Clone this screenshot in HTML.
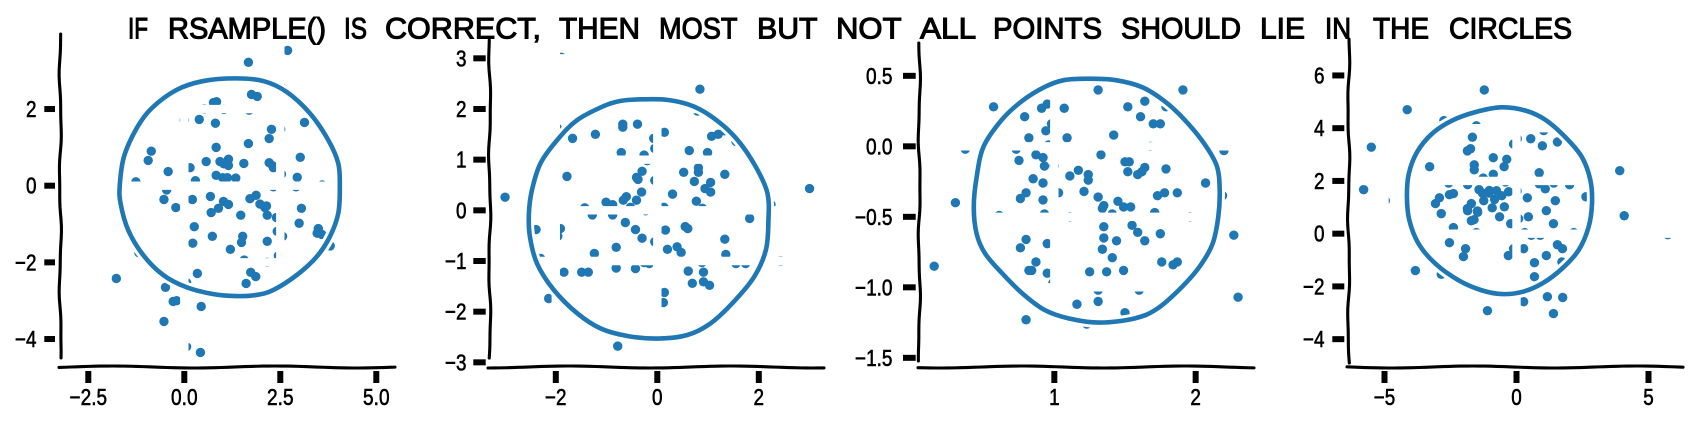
<!DOCTYPE html>
<html lang="en">
<head>
<meta charset="utf-8">
<title>rsample check</title>
<style>
html,body{margin:0;padding:0;background:#fff;}
svg{display:block;}
text{font-family:"Liberation Sans","DejaVu Sans",sans-serif;fill:#000;}
</style>
</head>
<body>
<svg id="chart" width="1696" height="421" viewBox="0 0 1696 421" xmlns="http://www.w3.org/2000/svg">
<rect width="1696" height="421" fill="#fff"/>
<text id="fig-title" y="38.5" font-size="30" stroke="#000" stroke-width="1.1"><tspan x="128" textLength="20" lengthAdjust="spacingAndGlyphs">IF</tspan> <tspan x="168" textLength="158" lengthAdjust="spacingAndGlyphs">RSAMPLE()</tspan> <tspan x="344" textLength="23" lengthAdjust="spacingAndGlyphs">IS</tspan> <tspan x="385" textLength="156" lengthAdjust="spacingAndGlyphs">CORRECT,</tspan> <tspan x="559" textLength="81" lengthAdjust="spacingAndGlyphs">THEN</tspan> <tspan x="659" textLength="78" lengthAdjust="spacingAndGlyphs">MOST</tspan> <tspan x="757" textLength="60" lengthAdjust="spacingAndGlyphs">BUT</tspan> <tspan x="836" textLength="65" lengthAdjust="spacingAndGlyphs">NOT</tspan> <tspan x="920" textLength="55" lengthAdjust="spacingAndGlyphs">ALL</tspan> <tspan x="993" textLength="109" lengthAdjust="spacingAndGlyphs">POINTS</tspan> <tspan x="1121" textLength="120" lengthAdjust="spacingAndGlyphs">SHOULD</tspan> <tspan x="1260" textLength="45" lengthAdjust="spacingAndGlyphs">LIE</tspan> <tspan x="1325" textLength="26" lengthAdjust="spacingAndGlyphs">IN</tspan> <tspan x="1373" textLength="56" lengthAdjust="spacingAndGlyphs">THE</tspan> <tspan x="1449" textLength="123" lengthAdjust="spacingAndGlyphs">CIRCLES</tspan></text>
</svg>
<script>
// ---- Panel 1 data ----
const p1X = [2.69,1.67,1.75,1.90,.84,.76,.52,1.03,1.69,2.53,0,.39,.81,3.13,2.27,2.51,2.21,1.67,.83,-.86,-.94,3.02,1.15,.93,1.03,1.15,.57,1.55,2.21,2.30,2.32,.15,-.42,.83,1.00,1.12,1.34,2.53,2.94,-1.26,.29,3.59,-.46,2.91,2.32,1.87,.68,1.71,-.53,.21,1.02,1.15,1.97,2.14,2.10,-.22,.89,3.05,.70,1.47,2.16,2.40,2.99,.26,3.49,3.46,3.58,2.42,2.56,.73,1.52,1.49,2.16,.22,3.80,1.20,-1.18,1.56,2.16,2.45,1.73,1.86,.34,-1.77,.06,1.61,-.49,-.29,-.20,.44,-.53,.06,.42];
const p1Y = [3.53,3.22,2.38,2.33,2.19,2.17,2.00,1.99,1.97,2.57,1.71,1.73,1.63,1.65,1.47,1.47,1.23,1.10,1.00,.90,.66,.74,.69,.63,.57,.53,.63,.58,.60,.52,.47,.47,.37,.27,.21,.21,.20,.30,.22,.10,.13,.02,-.11,-.03,-.03,-.25,-.28,-.34,-.36,-.36,-.41,-.49,-.48,-.53,-.57,-.57,-.59,-.59,-.70,-.77,-.77,-.83,-.98,-1.07,-1.12,-1.24,-1.27,-1.19,-1.32,-1.32,-1.32,-1.48,-1.45,-1.50,-1.57,-1.66,-1.75,-1.94,-2.00,-1.83,-2.26,-2.37,-2.29,-2.42,-2.53,-2.55,-2.65,-3.02,-3.00,-3.15,-3.54,-4.20,-4.35];
const p1CircleX = [1.34,2.06,2.66,3.27,3.75,4.01,4.05,4.01,3.79,3.45,2.93,2.32,1.88,1.34,.76,.06,-.55,-1.07,-1.46,-1.66,-1.68,-1.57,-1.24,-.85,-.20,.49];
const p1CircleY = [2.80,2.73,2.45,1.89,1.19,.58,-.03,-.72,-1.33,-1.85,-2.33,-2.72,-2.85,-2.88,-2.83,-2.65,-2.33,-1.81,-1.16,-.46,.02,.76,1.50,2.02,2.50,2.73];
const p1XTicks = [-2.5,0,2.5,5];
const p1XLabels = ["\u22122.5","0.0","2.5","5.0"];
const p1YTicks = [2,0,-2,-4];
const p1YLabels = ["2","0","\u22122","\u22124"];

// ---- Panel 2 data ----
const p2X = [.84,3.00,-3.00,-.68,-.68,-.39,.14,-1.97,-1.67,-1.22,-.07,1.07,1.20,1.32,1.55,-.05,-.71,-.26,.63,.99,-.20,.81,.81,-.30,.52,-1.78,1.33,-.41,-.38,-.05,.73,1.05,.94,1.05,-.31,.30,-.61,-.67,-.41,-1.01,.77,-.88,.89,-.53,-1.43,.13,-.23,2.24,-1.28,-.88,-.63,1.82,-2.39,-1.91,-1.96,-.43,.16,.55,.60,-.30,-.05,1.33,-.81,.39,.20,.47,1.35,-1.24,-2.30,2.43,-.81,-.43,-.26,-.16,1.55,1.74,.88,.61,.91,-1.84,-1.49,-1.36,.91,.69,1.03,.14,.12,-2.14,-.78,-1.89,.79];
const p2Y = [2.39,.43,.26,1.70,1.64,1.70,1.54,1.62,1.42,1.50,1.42,1.46,1.50,1.57,1.36,1.22,1.14,1.09,1.18,1.14,.98,.84,.75,.77,.75,.67,.71,.65,.61,.59,.57,.55,.43,.36,.36,.32,.27,.20,.20,.16,.18,.11,.04,.06,.05,.06,-.01,.11,-.09,-.09,-.24,-.16,-.38,-.36,-.51,-.38,-.39,-.32,-.36,-.55,-.62,-.57,-.73,-.72,-.77,-.83,-.87,-.85,-.95,-1.00,-1.14,-1.15,-1.03,-1.05,-1.05,-1.05,-1.03,-1.20,-1.22,-1.22,-1.22,-1.22,-1.41,-1.44,-1.48,-1.62,-1.82,-1.74,-2.68,3.02,1.96];
const p2CircleX = [-.33,.20,.72,1.18,1.58,1.94,2.17,2.19,2.14,1.91,1.51,1.05,.59,0,-.59,-1.12,-1.58,-2.04,-2.37,-2.51,-2.53,-2.47,-2.30,-1.97,-1.58,-1.05,-.72];
const p2CircleY = [2.19,2.18,2.05,1.77,1.39,.86,.34,-.19,-.78,-1.31,-1.80,-2.23,-2.46,-2.53,-2.48,-2.33,-2.03,-1.57,-1.05,-.52,-.06,.40,.93,1.39,1.78,2.06,2.16];
const p2XTicks = [-2,0,2];
const p2XLabels = ["\u22122","0","2"];
const p2YTicks = [3,2,1,0,-1,-2,-3];
const p2YLabels = ["3","2","1","0","\u22121","\u22122","\u22123"];

// ---- Panel 3 data ----
const p3X = [1.31,1.91,1.64,.57,.91,.95,1.07,1.52,1.79,.79,1.61,1.70,1.75,.98,.94,.82,1.09,1.42,.96,.37,.73,.87,.92,1.33,2.20,1.68,.75,.93,1.00,1.50,1.53,1.64,1.79,1.17,1.52,1.62,1.59,1.24,1.11,.85,.92,1.24,2.07,1.21,.80,1.03,1.78,1.87,1.73,.76,1.31,.92,2.19,1.45,.30,1.35,1.34,1.49,1.54,.93,1.41,1.71,.61,1.11,1.96,1.35,1.55,1.59,1.75,2.27,1.35,1.64,1.44,.80,.95,.76,1.34,1.41,.87,1.76,1.84,1.87,.15,.82,.84,1.49,1.37,1.25,.95,.99,1.31,1.60,1.16,1.31,1.50,.80,1.23,2.30];
const p3Y = [.40,.40,.32,.28,.27,.30,.27,.28,.28,.21,.21,.16,.16,.16,.11,.06,.06,.08,.01,-.02,-.02,-.06,-.08,-.06,-.03,0,-.10,-.14,-.14,-.11,-.11,-.15,-.16,-.17,-.18,-.18,-.20,-.20,-.21,-.23,-.26,-.24,-.26,-.32,-.33,-.33,-.33,-.33,-.35,-.37,-.36,-.38,-.35,-.39,-.40,-.42,-.44,-.43,-.43,-.48,-.48,-.47,-.49,-.50,-.50,-.57,-.56,-.61,-.62,-.63,-.65,-.67,-.67,-.66,-.69,-.72,-.73,-.79,-.82,-.82,-.84,-.82,-.85,-.88,-.88,-.88,-.89,-.89,-.90,-.97,-1.02,-1.02,-1.12,-1.10,-1.18,-1.23,-1.26,-1.07];
const p3CircleX = [1.24,1.43,1.62,1.78,1.92,2.06,2.15,2.17,2.16,2.12,2.03,1.90,1.73,1.57,1.32,1.10,.93,.77,.63,.51,.45,.43,.45,.50,.63,.77,.93,1.07];
const p3CircleY = [.48,.47,.42,.32,.19,.02,-.14,-.31,-.50,-.69,-.85,-1.00,-1.15,-1.22,-1.25,-1.22,-1.16,-1.04,-.90,-.76,-.62,-.43,-.22,0,.19,.32,.42,.47];
const p3XTicks = [1,2];
const p3XLabels = ["1","2"];
const p3YTicks = [.5,0,-.5,-1,-1.5];
const p3YLabels = ["0.5","0.0","\u22120.5","\u22121.0","\u22121.5"];

// ---- Panel 4 data ----
const p4X = [-1.22,-4.14,-2.75,-1.52,-1.67,.54,1.03,1.55,-.11,.03,.98,-5.50,-1.74,-1.86,-.88,-.37,-3.29,-1.60,-1.60,-.47,3.91,.86,-.88,-1.26,-2.57,-.42,-1.85,.86,1.09,1.41,2.01,-5.79,-1.42,-1.03,-.76,-.30,.02,-1.29,-.56,-2.54,-2.39,-1.04,.41,2.63,-2.92,1.47,-1.24,-.83,-4.97,-3.07,-1.71,-.92,-.46,-1.86,-1.85,-1.48,1.13,-2.85,-1.47,4.08,-.64,.45,.08,-1.61,-1.71,1.40,-.22,-2.39,-1.52,2.17,.31,.56,.90,5.73,-2.54,1.55,-1.93,1.74,.27,-.11,-2.01,-.31,1.13,.68,1.72,-3.83,.68,-2.85,1.17,1.75,.27,-1.10,1.40];
const p4Y = [5.45,4.70,4.29,4.09,3.66,3.60,3.91,3.48,3.40,3.60,3.33,3.28,3.22,3.14,2.88,2.82,2.54,2.61,2.42,2.54,2.39,2.31,2.25,2.11,1.92,1.96,1.86,1.89,1.70,1.92,1.86,1.67,1.67,1.64,1.63,1.59,1.62,1.54,1.44,1.48,1.52,1.54,1.36,1.40,1.36,1.25,1.25,1.30,1.25,1.14,1.14,.98,1.02,.95,.87,.86,.87,.76,.81,.68,.64,.64,.57,.53,.49,.38,.38,.23,.04,.04,.04,-.06,-.06,-.04,-.34,-.42,-.57,-.57,-.57,-.57,-.87,-.83,-.83,-1.10,-1.07,-1.40,-1.63,-1.54,-2.39,-2.42,-2.58,-2.92,-3.03];
const p4CircleX = [-.57,.33,1.09,1.85,2.48,2.80,2.86,2.73,2.35,1.72,.97,.21,-.55,-1.31,-2.19,-3.07,-3.71,-4.06,-4.15,-4.08,-3.77,-3.20,-2.44,-1.56];
const p4CircleY = [4.79,4.67,4.32,3.66,2.90,2.02,1.14,.25,-.63,-1.33,-1.89,-2.21,-2.29,-2.15,-1.77,-1.14,-.38,.51,1.39,2.27,3.09,3.79,4.29,4.61];
const p4XTicks = [-5,0,5];
const p4XLabels = ["\u22125","0","5"];
const p4YTicks = [6,4,2,0,-2,-4];
const p4YLabels = ["6","4","2","0","\u22122","\u22124"];

const NS = 'http://www.w3.org/2000/svg';
const svg = document.getElementById('chart');
const titleEl = document.getElementById('fig-title');
const BLUE = '#1f77b4';

const panels = [
  {xs:p1X, ys:p1Y, cx:p1CircleX, cy:p1CircleY, xt:p1XTicks, xl:p1XLabels, yt:p1YTicks, yl:p1YLabels,
   x0:184.3, kx:38.4, y0:185.7, ky:38.33, spine:60.3, top:34, right:397, left:59, tickL:44.3, tickR:55, labelR:36.5, ph:0.4},
  {xs:p2X, ys:p2Y, cx:p2CircleX, cy:p2CircleY, xt:p2XTicks, xl:p2XLabels, yt:p2YTicks, yl:p2YLabels,
   x0:657.3, kx:50.75, y0:210.33, ky:50.67, spine:489.7, top:40, right:826, left:488, tickL:473.3, tickR:485.7, labelR:466.5, ph:1.7},
  {xs:p3X, ys:p3Y, cx:p3CircleX, cy:p3CircleY, xt:p3XTicks, xl:p3XLabels, yt:p3YTicks, yl:p3YLabels,
   x0:913, kx:141.33, y0:146.33, ky:141, spine:919.3, top:43, right:1255, left:918, tickL:903, tickR:915.7, labelR:892.5, ph:3.1},
  {xs:p4X, ys:p4Y, cx:p4CircleX, cy:p4CircleY, xt:p4XTicks, xl:p4XLabels, yt:p4YTicks, yl:p4YLabels,
   x0:1516.5, kx:26.4, y0:233.67, ky:26.37, spine:1348.7, top:39, right:1684, left:1347, tickL:1332.3, tickR:1344.3, labelR:1324.5, ph:4.6}
];

function mk(tag, parent, attrs){
  const el = document.createElementNS(NS, tag);
  for (const k in attrs) el.setAttribute(k, attrs[k]);
  parent.appendChild(el);
  return el;
}
function labelWidth(s){
  let w = 0;
  for (const c of s) w += c === '.' ? 5.5 : (c === '\u2212' ? 11 : 10.5);
  return w;
}
function smoothClosed(pts){
  const n = pts.length;
  let d = 'M' + pts[0][0].toFixed(2) + ' ' + pts[0][1].toFixed(2);
  for (let i = 0; i < n; i++){
    const p0 = pts[(i - 1 + n) % n], p1 = pts[i], p2 = pts[(i + 1) % n], p3 = pts[(i + 2) % n];
    const c1x = p1[0] + (p2[0] - p0[0]) / 6, c1y = p1[1] + (p2[1] - p0[1]) / 6;
    const c2x = p2[0] - (p3[0] - p1[0]) / 6, c2y = p2[1] - (p3[1] - p1[1]) / 6;
    d += 'C' + c1x.toFixed(2) + ' ' + c1y.toFixed(2) + ' ' + c2x.toFixed(2) + ' ' + c2y.toFixed(2) + ' ' + p2[0].toFixed(2) + ' ' + p2[1].toFixed(2);
  }
  return d + 'Z';
}

panels.forEach(function(p, idx){
  const sx = v => p.x0 + p.kx * v;
  const sy = v => p.y0 - p.ky * v;
  const baseY = 367;
  const bottom = 363;

  const g = mk('g', svg, {});
  
  

  // samples
  const dots = mk('g', g, {fill: BLUE});
  
  
  p.xs.forEach(function(v, i){
    const dot = mk('circle', dots, {cx: sx(v).toFixed(2), cy: sy(p.ys[i]).toFixed(2), r: 4.7});
    
    
  });

  // white sketch-style halo of the invisible grid lines, which slices through the points
  const grid = mk('g', g, {stroke: '#fff', 'stroke-width': 8.4, fill: 'none'});
  
  
  p.xt.forEach(function(t){
    const l = mk('line', grid, {x1: sx(t), x2: sx(t), y1: p.top, y2: bottom});
    
    
  });
  p.yt.forEach(function(t){
    const l = mk('line', grid, {x1: p.left, x2: p.right, y1: sy(t), y2: sy(t)});
    
    
  });

  // circle
  const pts = p.cx.map((v, i) => [sx(v), sy(p.cy[i])]);
  const d = smoothClosed(pts);
  const halo = mk('path', g, {d: d, fill: 'none', stroke: '#fff', 'stroke-width': 10.5});
  
  
  const ring = mk('path', g, {d: d, fill: 'none', stroke: BLUE, 'stroke-width': 4.6});
  
  

  // wobbly spines
  let ls = '';
  for (let y = p.top; y <= bottom; y += 6){
    const xx = p.spine + 0.9 * Math.sin(y / 17 + p.ph) + 0.3 * Math.sin(y / 7 + p.ph);
    ls += (ls ? 'L' : 'M') + xx.toFixed(2) + ' ' + y;
  }
  const leftSpine = mk('path', g, {d: ls, fill: 'none', stroke: '#000', 'stroke-width': 3.1, 'stroke-linecap': 'round', 'stroke-linejoin': 'round'});
  
  

  let bs = '';
  for (let x = p.left; x <= p.right; x += 6){
    const yy = baseY + 1.0 * Math.sin(x / 26 + p.ph);
    bs += (bs ? 'L' : 'M') + x + ' ' + yy.toFixed(2);
  }
  const bottomSpine = mk('path', g, {d: bs, fill: 'none', stroke: '#000', 'stroke-width': 3.1, 'stroke-linecap': 'round', 'stroke-linejoin': 'round'});
  
  

  // ticks and labels
  p.xt.forEach(function(t, i){
    const tick = mk('line', g, {x1: sx(t), x2: sx(t), y1: 371, y2: 383, stroke: '#000', 'stroke-width': 6});
    
    
    const s = p.xl[i];
    const tx = mk('text', g, {x: sx(t), y: 405, 'text-anchor': 'middle', 'font-size': 23, stroke: '#000', 'stroke-width': 0.6, textLength: labelWidth(s), lengthAdjust: 'spacingAndGlyphs'});
    
    
    tx.textContent = s;
  });
  p.yt.forEach(function(t, i){
    const tick = mk('line', g, {x1: p.tickL, x2: p.tickR, y1: sy(t), y2: sy(t), stroke: '#000', 'stroke-width': 6});
    
    
    const s = p.yl[i];
    const ty = mk('text', g, {x: p.labelR, y: sy(t) + 8, 'text-anchor': 'end', 'font-size': 23, stroke: '#000', 'stroke-width': 0.6, textLength: labelWidth(s), lengthAdjust: 'spacingAndGlyphs'});
    
    
    ty.textContent = s;
  });
});
// title sits above everything
svg.appendChild(titleEl);
</script>
</body>
</html>
